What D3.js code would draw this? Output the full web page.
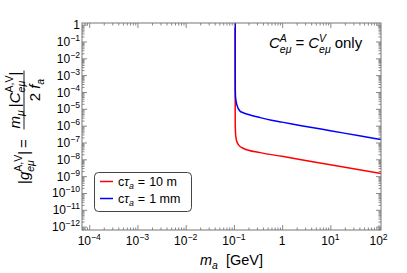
<!DOCTYPE html>
<html>
<head>
<meta charset="utf-8">
<script src="https://cdn.jsdelivr.net/npm/d3@7"></script>
<style>
  body { margin: 0; background: #fff; }
  svg { display: block; font-family: "Liberation Sans", Arial, sans-serif; }
</style>
</head>
<body>
<div id="chart"></div>
<script>
// Values
const blueMass = [0.1062, 0.1063, 0.1066, 0.108, 0.1155, 0.135, 0.16, 0.19, 0.35, 0.6, 1, 2.5, 10, 40, 120];
const blueCoupling = [3.2, 1e-2, 3.2e-4, 5e-5, 1.66e-5, 7.1e-6, 5.7e-6, 4.8e-6, 3.0e-6, 2.1e-6, 1.62e-6, 1.0e-6, 5.0e-7, 2.5e-7, 1.45e-7];
const redMass = [0.1062, 0.10625, 0.1064, 0.109, 0.1155, 0.13, 0.159, 0.35, 1, 2.5, 10, 40, 120];
const redCoupling = [3.2, 1e-4, 1.6e-6, 2.5e-7, 1.1e-7, 6.3e-8, 4.4e-8, 2.5e-8, 1.5e-8, 9.5e-9, 4.8e-9, 2.4e-9, 1.38e-9];

const xDecades = [-4, -3, -2, -1, 0, 1, 2];
const yDecades = [0, -1, -2, -3, -4, -5, -6, -7, -8, -9, -10, -11, -12];
const legendLabels = ["10 m", "1 mm"];
const legendColors = ["#ff0000", "#0000ff"];

const width = 407, height = 273;
const frame = {left: 82, right: 381, top: 23, bottom: 230};

const svg = d3.select("#chart").append("svg")
  .attr("width", width).attr("height", height);

const x = d3.scaleLog().domain([Math.pow(10, -4.15), Math.pow(10, 2.05)]).range([frame.left, frame.right]);
const y = d3.scaleLog().domain([Math.pow(10, -12.2), Math.pow(10, 0.1)]).range([frame.bottom, frame.top]);

// writes a row of text pieces (italic, sub/superscripts, stacked scripts)
function mathText(g, px, py, parts, size, anchor) {
  const grp = g.append("g");
  let cx = 0, lastStart = 0;
  parts.forEach(p => {
    if (p.gap) { cx += p.gap; lastStart = cx; return; }
    const start = p.stack ? lastStart : cx;
    const t = grp.append("text")
      .attr("x", start)
      .attr("y", (p.dy || 0) * size)
      .attr("font-size", size * (p.s || 1))
      .attr("font-style", p.i ? "italic" : null)
      .attr("fill", "#000")
      .text(p.t);
    const w = t.node().getComputedTextLength();
    if (p.stack) {
      cx = Math.max(cx, start + w);
    } else {
      lastStart = start;
      cx = start + w;
    }
  });
  let shift = 0;
  if (anchor === "end") shift = -cx;
  if (anchor === "middle") shift = -cx / 2;
  grp.attr("transform", `translate(${px + shift},${py})`);
  return cx;
}

function powerLabel(k) {
  if (k === 0) return [{t: "1"}];
  const exp = k < 0 ? "\u2212" + (-k) : String(k);
  return [{t: "10"}, {t: exp, s: 0.72, dy: -0.42}];
}

// minor tick values
function minors(scale) {
  const [a, b] = scale.domain();
  const out = [];
  for (let k = Math.floor(Math.log10(a)); k <= Math.ceil(Math.log10(b)); k++) {
    for (let m = 2; m <= 9; m++) {
      const v = m * Math.pow(10, k);
      if (v >= a && v <= b) out.push(v);
    }
  }
  return out;
}
const xMajor = xDecades.map(k => Math.pow(10, k));
const yMajor = yDecades.map(k => Math.pow(10, k));

// clip + curves
svg.append("clipPath").attr("id", "plotclip")
  .append("rect").attr("x", frame.left).attr("y", frame.top)
  .attr("width", frame.right - frame.left).attr("height", frame.bottom - frame.top);

const line = d3.line()
  .x(d => x(d[0]))
  .y(d => y(d[1]))
  .curve(d3.curveMonotoneX);

const curves = svg.append("g").attr("clip-path", "url(#plotclip)");
curves.append("path")
  .datum(redMass.map((m, i) => [m, redCoupling[i]]))
  .attr("fill", "none").attr("stroke", legendColors[0]).attr("stroke-width", 1.5)
  .attr("d", line);
curves.append("path")
  .datum(blueMass.map((m, i) => [m, blueCoupling[i]]))
  .attr("fill", "none").attr("stroke", legendColors[1]).attr("stroke-width", 1.5)
  .attr("d", line);

// ticks on all four sides, pointing inward
function tickAxis(axisFn, scale, values, size, tx, ty) {
  const g = svg.append("g")
    .attr("transform", `translate(${tx},${ty})`)
    .call(axisFn(scale).tickValues(values).tickSize(size).tickFormat(""));
  g.select(".domain").remove();
  g.selectAll("line").attr("stroke", "#888").attr("stroke-width", 1);
}
tickAxis(d3.axisBottom, x, xMajor, -5, 0, frame.bottom);
tickAxis(d3.axisBottom, x, minors(x), -2.5, 0, frame.bottom);
tickAxis(d3.axisTop, x, xMajor, -5, 0, frame.top);
tickAxis(d3.axisTop, x, minors(x), -2.5, 0, frame.top);
tickAxis(d3.axisLeft, y, yMajor, -5, frame.left, 0);
tickAxis(d3.axisLeft, y, minors(y), -2.5, frame.left, 0);
tickAxis(d3.axisRight, y, yMajor, -5, frame.right, 0);
tickAxis(d3.axisRight, y, minors(y), -2.5, frame.right, 0);

// frame
svg.append("rect")
  .attr("x", frame.left).attr("y", frame.top)
  .attr("width", frame.right - frame.left).attr("height", frame.bottom - frame.top)
  .attr("fill", "none").attr("stroke", "#777").attr("stroke-width", 1);

// tick labels
xDecades.forEach(k => mathText(svg, x(Math.pow(10, k)), 245, powerLabel(k), 12, "middle"));
yDecades.forEach(k => mathText(svg, 80, y(Math.pow(10, k)) + 4.5, powerLabel(k), 12, "end"));

// x title
mathText(svg, 231.5, 265, [
  {t: "m", i: 1}, {t: "a", i: 1, s: 0.72, dy: 0.25}, {gap: 8}, {t: "[GeV]"}
], 14.5, "middle");

// y title, rotated
const yl = svg.append("g").attr("transform", "rotate(-90)");
mathText(yl, -184, 29, [
  {t: "|"}, {t: "g", i: 1}, {t: "A,V", s: 0.7, dy: -0.45}, {t: "e\u03bc", i: 1, s: 0.7, dy: 0.3, stack: 1},
  {t: "|"}, {gap: 3}, {t: "="}
], 15, "start");
const numW = mathText(yl, -100, 20, [
  {t: "m", i: 1}, {t: "\u03bc", i: 1, s: 0.7, dy: 0.25}, {gap: 3}, {t: "|"},
  {t: "C", i: 1}, {t: "A,V", s: 0.7, dy: -0.45}, {t: "e\u03bc", i: 1, s: 0.7, dy: 0.3, stack: 1}, {t: "|"}
], 15, "middle");
yl.append("line")
  .attr("x1", -100 - numW / 2 - 1).attr("x2", -100 + numW / 2 + 1)
  .attr("y1", 24).attr("y2", 24)
  .attr("stroke", "#000").attr("stroke-width", 0.9);
mathText(yl, -90, 40, [
  {t: "2"}, {gap: 4}, {t: "f", i: 1}, {t: "a", i: 1, s: 0.7, dy: 0.25}
], 15, "middle");

// annotation
mathText(svg, 269, 48, [
  {t: "C", i: 1}, {t: "A", i: 1, s: 0.7, dy: -0.42}, {t: "e\u03bc", i: 1, s: 0.7, dy: 0.3, stack: 1},
  {gap: 4}, {t: "="}, {gap: 4},
  {t: "C", i: 1}, {t: "V", i: 1, s: 0.7, dy: -0.42}, {t: "e\u03bc", i: 1, s: 0.7, dy: 0.3, stack: 1},
  {gap: 4}, {t: "only"}
], 15, "start");

// legend
const lg = svg.append("g");
lg.append("rect")
  .attr("x", 94.5).attr("y", 172.5).attr("width", 97).attr("height", 39).attr("rx", 4)
  .attr("fill", "#fff").attr("stroke", "#444").attr("stroke-width", 1);
legendLabels.forEach((lab, i) => {
  const ly = 181.5 + i * 17;
  lg.append("line")
    .attr("x1", 100).attr("x2", 113).attr("y1", ly).attr("y2", ly)
    .attr("stroke", legendColors[i]).attr("stroke-width", 1.5);
  mathText(lg, 118, ly + 4, [
    {t: "c"}, {t: "\u03c4", i: 1}, {t: "a", i: 1, s: 0.7, dy: 0.25}, {gap: 4}, {t: "="}, {gap: 4}, {t: lab}
  ], 12.5, "start");
});
</script>
</body>
</html>
